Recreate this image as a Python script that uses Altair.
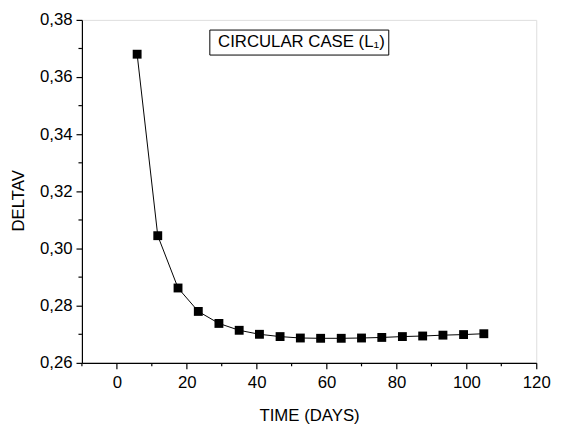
import altair as alt
import pandas as pd

# Data
time_days = [5.8, 11.7, 17.5, 23.3, 29.2, 35.0, 40.8, 46.7, 52.5, 58.3,
             64.2, 70.0, 75.8, 81.7, 87.5, 93.3, 99.2, 105.0]
deltav = [0.3680, 0.3045, 0.2862, 0.2780, 0.2738, 0.2714, 0.2700, 0.2692,
          0.2687, 0.2686, 0.2686, 0.2687, 0.2689, 0.2692, 0.2694, 0.2697,
          0.2699, 0.2702]

x_major = [0, 20, 40, 60, 80, 100, 120]
x_minor = [-10, 10, 30, 50, 70, 90, 110]
y_major = [0.26, 0.28, 0.30, 0.32, 0.34, 0.36, 0.38]
y_minor = [0.27, 0.29, 0.31, 0.33, 0.35, 0.37]

label_text = ["CIRCULAR CASE (L\u2081)"]
label_box_x = [26.6]
label_box_x2 = [77.8]
label_box_y = [0.37645]
label_box_y2 = [0.3677]
label_x = [52.8]
label_y = [0.3721]

df = pd.DataFrame({"t": time_days, "dv": deltav})
xminor_df = pd.DataFrame({"t": x_minor})
yminor_df = pd.DataFrame({"dv": y_minor})
ann = pd.DataFrame({"text": label_text, "t": label_box_x, "t2": label_box_x2,
                    "dv": label_box_y, "dv2": label_box_y2,
                    "tx": label_x, "ty": label_y})

FONT = "Liberation Sans"
FS = 17

xscale = alt.Scale(domain=[-10, 120], nice=False, zero=False)
yscale = alt.Scale(domain=[0.26, 0.38], nice=False, zero=False)

xaxis = alt.Axis(
    title="TIME (DAYS)", values=x_major, grid=False, tickSize=6,
    labelFont=FONT, labelFontSize=FS, labelColor="black", labelPadding=6,
    titleFont=FONT, titleFontSize=FS, titleFontWeight="normal", titleColor="black",
    titleY=53, titleBaseline="middle",
    domainColor="black", tickColor="black", domainWidth=1.2,
    tickWidth=1.2, labelFlush=False, labelOverlap=False,
)
yaxis = alt.Axis(
    title="DELTAV", values=y_major, grid=False, tickSize=6,
    labelExpr="replace(format(datum.value, '.2f'), '.', ',')",
    labelFont=FONT, labelFontSize=FS, labelColor="black", labelPadding=4,
    titleFont=FONT, titleFontSize=FS, titleFontWeight="normal", titleColor="black",
    titleX=-64, titleY=183, titleAlign="center", titleBaseline="middle",
    domainColor="black", tickColor="black", domainWidth=1.2, tickWidth=1.2,
    labelFlush=False, labelOverlap=False,
)

base = alt.Chart(df)
line = base.mark_line(color="black", strokeWidth=1).encode(
    x=alt.X("t:Q", scale=xscale, axis=xaxis),
    y=alt.Y("dv:Q", scale=yscale, axis=yaxis),
)
pts = base.mark_point(shape="square", filled=True, color="black", size=81, opacity=1).encode(
    x=alt.X("t:Q", scale=xscale, axis=xaxis),
    y=alt.Y("dv:Q", scale=yscale, axis=yaxis),
)
xminor = alt.Chart(xminor_df).mark_rule(color="black", strokeWidth=1.2).encode(
    x=alt.X("t:Q", scale=xscale, axis=xaxis),
    y=alt.value(348), y2=alt.value(351.5),
)
yminor = alt.Chart(yminor_df).mark_rule(color="black", strokeWidth=1.2).encode(
    y=alt.Y("dv:Q", scale=yscale, axis=yaxis),
    x=alt.value(0), x2=alt.value(-3.5),
)
box = alt.Chart(ann).mark_rect(fill="white", stroke="black", strokeWidth=1).encode(
    x=alt.X("t:Q", scale=xscale, axis=xaxis), x2="t2:Q",
    y=alt.Y("dv:Q", scale=yscale, axis=yaxis), y2="dv2:Q",
)
txt = alt.Chart(ann).mark_text(font=FONT, fontSize=FS, color="black").encode(
    x=alt.X("tx:Q", scale=xscale, axis=xaxis),
    y=alt.Y("ty:Q", scale=yscale, axis=yaxis),
    text="text:N",
)

chart = alt.layer(line, pts, xminor, yminor, box, txt).properties(
    width=461, height=348,
    autosize=alt.AutoSizeParams(type="none"),
    padding={"left": 75, "top": 9, "right": 18, "bottom": 63},
).configure_view(stroke=None).configure(background="white")

chart.save("out.html", embed_options={"renderer": "svg", "actions": False})
